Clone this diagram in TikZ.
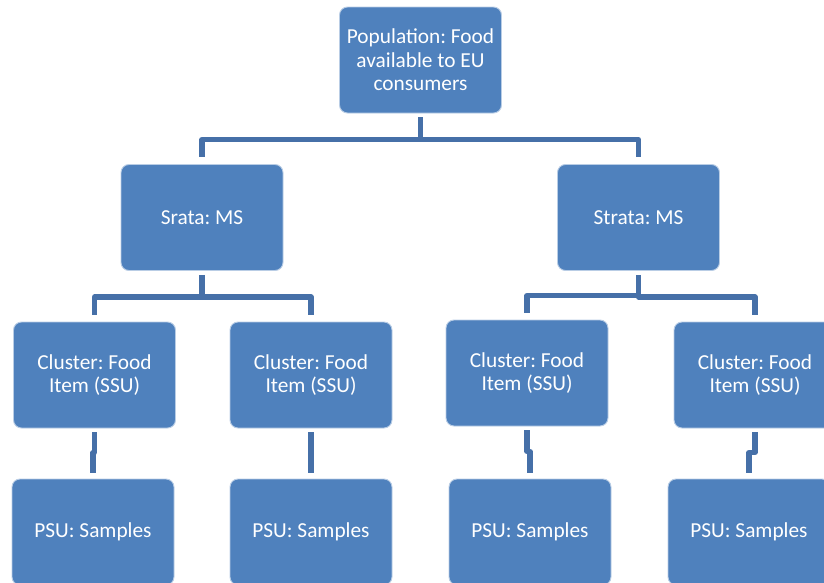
\documentclass[tikz,border=0pt]{standalone}
\usepackage{fontspec}
\setmainfont{Carlito}
\usetikzlibrary{calc}
\definecolor{boxblue}{HTML}{4F81BD}
\definecolor{linkblue}{HTML}{4670A8}
\tikzset{
  unitbox/.style={rectangle, rounded corners=6pt, fill=boxblue,
    draw=white!60!boxblue, line width=0.7pt,
    minimum width=121.5pt, minimum height=79.5pt, inner sep=0pt,
    text=white, align=center, font=\fontsize{16}{17.6}\selectfont},
  link/.style={draw=linkblue, line width=3.8pt, line join=round},
}
% elbow connector from the bottom of one box to the top of another
\newcommand\elbowlink[2]{%
  \path ([yshift=-3pt]#1.south) coordinate (#1-out)
        ([yshift=4.5pt]#2.north) coordinate (#2-in);
  \draw[link] (#1-out) |- ($(#1-out)!.5!(#2-in)$) -| (#2-in);}
\frenchspacing
\begin{document}
\begin{tikzpicture}[x=0.75pt, y=-0.75pt]
  \useasboundingbox (0,0) rectangle (824,582);
  \clip (0,0) rectangle (824,582);

  % top level
  \node[unitbox] (pop) at (420.5,60) {Population: Food\\available to EU\\consumers};

  % strata
  \node[unitbox] (sL) at (202,217.5) {Srata: MS};
  \node[unitbox] (sR) at (638.5,217.5) {Strata: MS};

  % clusters
  \node[unitbox] (c1) at (94.5,375) {Cluster: Food\\Item (SSU)};
  \node[unitbox] (c2) at (311,375) {Cluster: Food\\Item (SSU)};
  \node[unitbox] (c3) at (527,373) {Cluster: Food\\Item (SSU)};
  \node[unitbox] (c4) at (755,375) {Cluster: Food\\Item (SSU)};

  % primary sampling units
  \node[unitbox] (p1) at (93,532) {PSU: Samples};
  \node[unitbox] (p2) at (311,532) {PSU: Samples};
  \node[unitbox] (p3) at (530,532) {PSU: Samples};
  \node[unitbox] (p4) at (749,532) {PSU: Samples};

  % population -> strata
  \coordinate (j0) at (420.5,139.5);
  \draw[link] ([yshift=-3pt]pop.south) -- (j0) -| ([yshift=5pt]sL.north);
  \draw[link] (j0) -| ([yshift=5pt]sR.north);

  % left stratum -> clusters
  \coordinate (jL) at (202,297);
  \draw[link] ([yshift=-3pt]sL.south) -- (jL) -| ([yshift=5pt]c1.north);
  \draw[link] (jL) -| ([yshift=5pt]c2.north);

  % right stratum -> clusters
  \coordinate (jR) at (638.5,297);
  \coordinate (jR2) at (638.5,295.5);
  \draw[link] ([yshift=-3pt]sR.south) -- (jR) -| ([yshift=5pt]c4.north);
  \draw[link] (jR2) -| ([yshift=5pt]c3.north);

  % clusters -> PSUs
  \elbowlink{c1}{p1}
  \elbowlink{c2}{p2}
  \elbowlink{c3}{p3}
  \elbowlink{c4}{p4}
\end{tikzpicture}
\end{document}
